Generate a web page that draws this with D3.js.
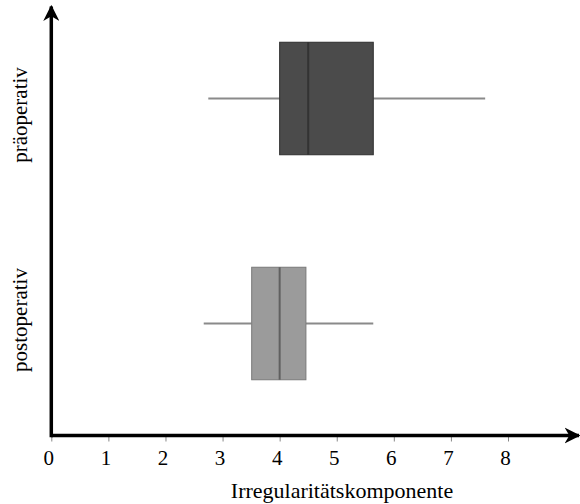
<!DOCTYPE html>
<html>
<head>
<meta charset="utf-8">
<script src="https://cdn.jsdelivr.net/npm/d3@7"></script>
<style>
  html, body { margin: 0; padding: 0; background: #fff; }
  svg { display: block; }
  svg text { font-family: "Liberation Serif", "Times New Roman", serif !important; fill: #000; }
</style>
</head>
<body>
<svg id="chart" width="580" height="504"></svg>
<script>
// Groups and their five-number summaries
const groups = ["präoperativ", "postoperativ"];
const whiskerLow  = [2.75, 2.67];
const quartile1   = [4.0, 3.51];
const medians     = [4.5, 4.0];
const quartile3   = [5.64, 4.46];
const whiskerHigh = [7.6, 5.64];
const fills       = ["#4b4b4b", "#9b9b9b"];
const medianInk   = ["#333333", "#606060"];
const edgeInk     = ["#2e2e2e", "#7a7a7a"];

const xTicks = [0, 1, 2, 3, 4, 5, 6, 7, 8];
const xTitle = "Irregularitätskomponente";

const svg = d3.select("#chart");

const x = d3.scaleLinear().domain([0, 8]).range([51.3, 508]);
const y = d3.scaleBand().domain(groups).range([-14, 436])
  .paddingInner(0.5).paddingOuter(0.25);

const axisY = 435.5;

// Arrowheads for both axes
const defs = svg.append("defs");
defs.append("marker")
  .attr("id", "arrow")
  .attr("viewBox", "0 0 10 10")
  .attr("refX", 9).attr("refY", 5)
  .attr("markerWidth", 4.6).attr("markerHeight", 4.6)
  .attr("markerUnits", "strokeWidth")
  .attr("orient", "auto")
  .append("path")
  .attr("d", "M0,0 L10,5 L0,10 L3,5 Z")
  .attr("fill", "#000");

// Box plots
const rows = groups.map((g, i) => ({
  g, lo: whiskerLow[i], q1: quartile1[i], med: medians[i],
  q3: quartile3[i], hi: whiskerHigh[i], fill: fills[i],
  medInk: medianInk[i], edge: edgeInk[i]
}));

const box = svg.append("g").selectAll("g").data(rows).join("g");

box.append("line")
  .attr("x1", d => x(d.lo)).attr("x2", d => x(d.q1))
  .attr("y1", d => y(d.g) + y.bandwidth() / 2)
  .attr("y2", d => y(d.g) + y.bandwidth() / 2)
  .attr("stroke", "#8a8a8a").attr("stroke-width", 2);

box.append("line")
  .attr("x1", d => x(d.q3)).attr("x2", d => x(d.hi))
  .attr("y1", d => y(d.g) + y.bandwidth() / 2)
  .attr("y2", d => y(d.g) + y.bandwidth() / 2)
  .attr("stroke", "#8a8a8a").attr("stroke-width", 2);

box.append("rect")
  .attr("x", d => x(d.q1))
  .attr("width", d => x(d.q3) - x(d.q1))
  .attr("y", d => y(d.g))
  .attr("height", y.bandwidth())
  .attr("fill", d => d.fill)
  .attr("stroke", d => d.edge).attr("stroke-width", 1);

box.append("line")
  .attr("x1", d => x(d.med)).attr("x2", d => x(d.med))
  .attr("y1", d => y(d.g)).attr("y2", d => y(d.g) + y.bandwidth())
  .attr("stroke", d => d.medInk).attr("stroke-width", 2);

// X axis ticks and labels
const xAxis = svg.append("g")
  .attr("transform", `translate(0,${axisY})`)
  .call(d3.axisBottom(x).tickValues(xTicks).tickSize(6).tickPadding(9)
    .tickFormat(d3.format("d")));
xAxis.select(".domain").remove();
xAxis.selectAll(".tick line").attr("stroke", "#888").attr("stroke-width", 1);
xAxis.selectAll(".tick text")
  .attr("dx", -3)
  .style("font-size", "21px");

// Axis lines with arrows
svg.append("line")
  .attr("x1", x(0)).attr("x2", 579)
  .attr("y1", axisY).attr("y2", axisY)
  .attr("stroke", "#000").attr("stroke-width", 3.5)
  .attr("marker-end", "url(#arrow)");

svg.append("line")
  .attr("x1", x(0)).attr("x2", x(0))
  .attr("y1", axisY + 1.75).attr("y2", 6.5)
  .attr("stroke", "#000").attr("stroke-width", 3.5)
  .attr("marker-end", "url(#arrow)");

// Axis title
svg.append("text")
  .attr("x", 342).attr("y", 498)
  .attr("text-anchor", "middle")
  .style("font-size", "22px")
  .text(xTitle);

// Category labels, read bottom to top
const labelCenters = [115, 320];
svg.append("g").selectAll("text").data(groups).join("text")
  .attr("transform", (d, i) => `translate(27,${labelCenters[i]}) rotate(-90)`)
  .attr("text-anchor", "middle")
  .style("font-size", "21px")
  .text(d => d);
</script>
</body>
</html>
